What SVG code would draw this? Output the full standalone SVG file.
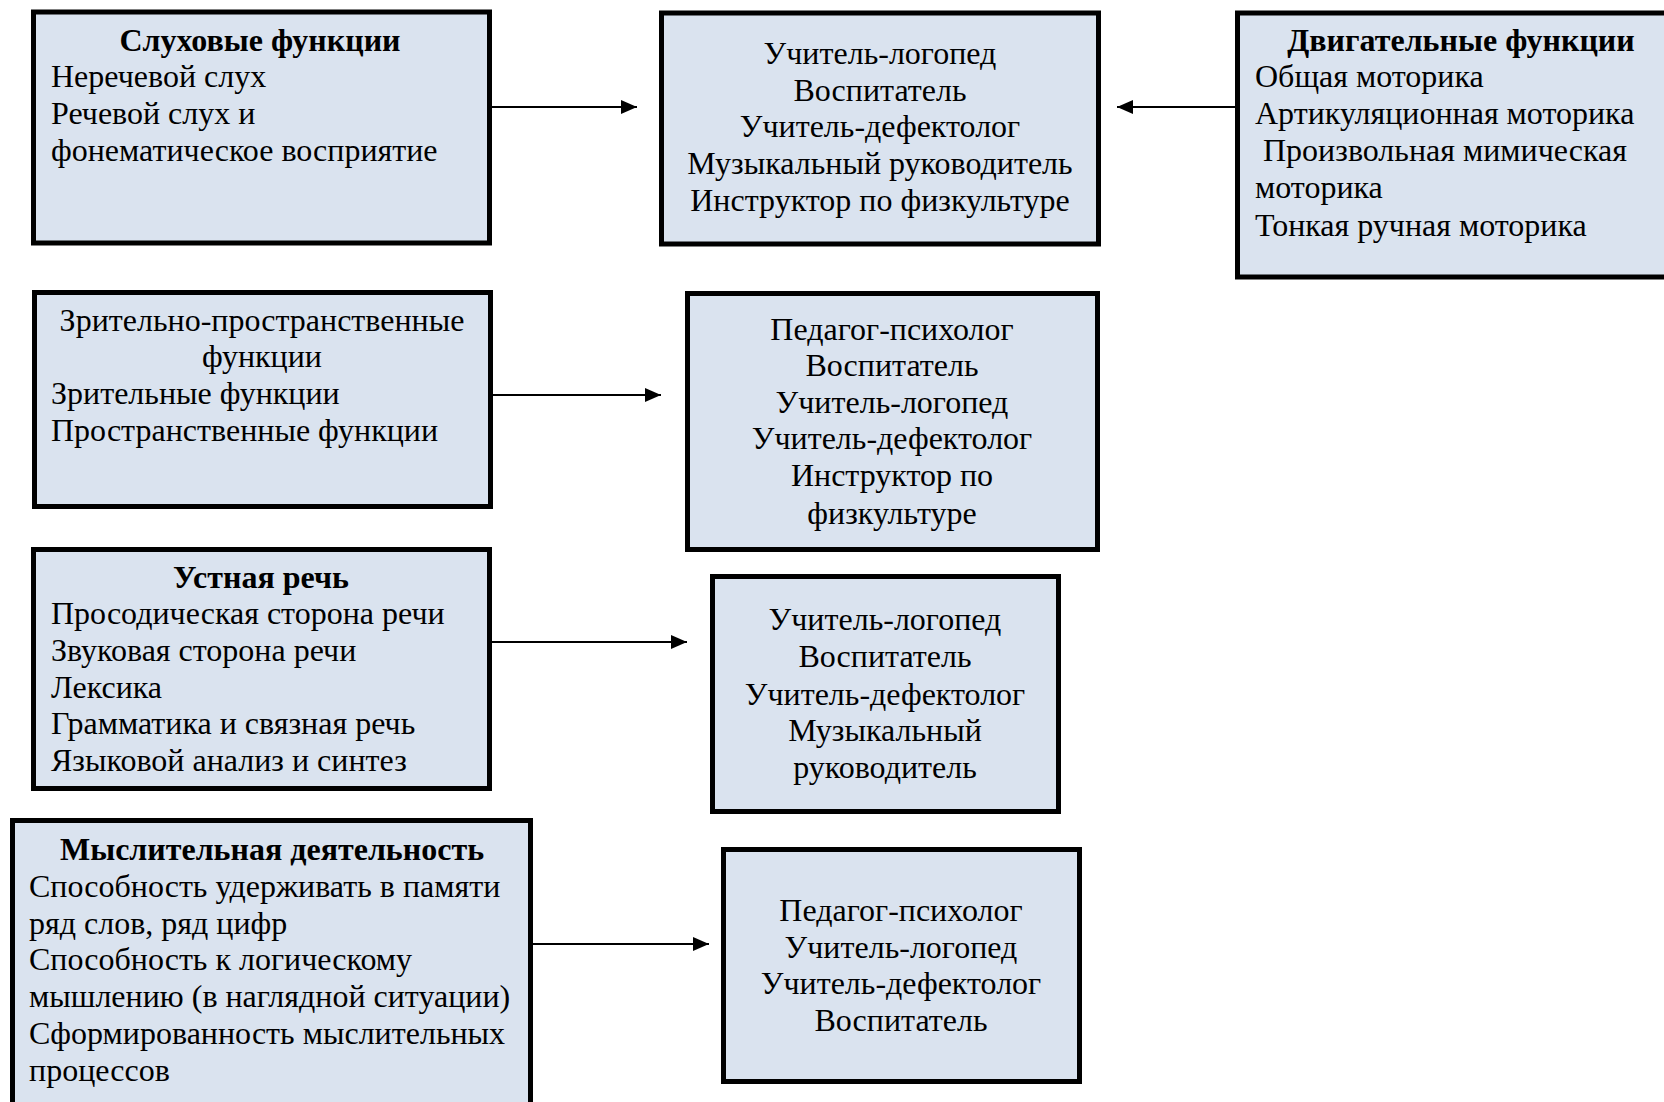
<svg xmlns="http://www.w3.org/2000/svg" width="1664" height="1102" viewBox="0 0 1664 1102">
<defs>
<style>
.box{fill:#dae3ef;stroke:#000;stroke-width:5}
text{font-family:"Liberation Serif","Times New Roman",serif;font-size:32px;fill:#000}
.c{text-anchor:middle}
.b{font-weight:bold}
.conn{stroke:#000;stroke-width:2;fill:none}
</style>
<marker id="ah" viewBox="0 0 16 14" refX="16" refY="7" markerWidth="16" markerHeight="14" markerUnits="userSpaceOnUse" orient="auto">
<path d="M0,0 L16,7 L0,14 Z" fill="#000"/>
</marker>
</defs>
<rect width="1664" height="1102" fill="#fff"/>

<g id="n1">
<rect class="box" x="33.5" y="12" width="456" height="231"/>
<text class="c b" x="260" y="51">Слуховые функции</text>
<text x="51" y="87">Неречевой слух</text>
<text x="51" y="124">Речевой слух и</text>
<text x="51" y="161">фонематическое восприятие</text>
</g>

<g id="n2">
<rect class="box" x="661.5" y="13" width="437" height="231"/>
<text class="c" x="880" y="64">Учитель-логопед</text>
<text class="c" x="880" y="101">Воспитатель</text>
<text class="c" x="880" y="137">Учитель-дефектолог</text>
<text class="c" x="880" y="174">Музыкальный руководитель</text>
<text class="c" x="880" y="211">Инструктор по физкультуре</text>
</g>

<g id="n3">
<rect class="box" x="1237.5" y="13" width="440" height="264"/>
<text class="c b" x="1461" y="51">Двигательные функции</text>
<text x="1255" y="87">Общая моторика</text>
<text x="1255" y="124">Артикуляционная моторика</text>
<text x="1255" y="161" xml:space="preserve"> Произвольная мимическая</text>
<text x="1255" y="198">моторика</text>
<text x="1255" y="236">Тонкая ручная моторика</text>
</g>

<g id="n4">
<rect class="box" x="34.5" y="292.5" width="456" height="214"/>
<text class="c" x="262" y="331">Зрительно-пространственные</text>
<text class="c" x="262" y="367">функции</text>
<text x="51" y="404">Зрительные функции</text>
<text x="51" y="441">Пространственные функции</text>
</g>

<g id="n5">
<rect class="box" x="687.5" y="293.5" width="410" height="256"/>
<text class="c" x="892" y="340">Педагог-психолог</text>
<text class="c" x="892" y="376">Воспитатель</text>
<text class="c" x="892" y="413">Учитель-логопед</text>
<text class="c" x="892" y="449">Учитель-дефектолог</text>
<text class="c" x="892" y="486">Инструктор по</text>
<text class="c" x="892" y="524">физкультуре</text>
</g>

<g id="n6">
<rect class="box" x="33.5" y="549.5" width="456" height="239"/>
<text class="c b" x="261" y="588">Устная речь</text>
<text x="51" y="624">Просодическая сторона речи</text>
<text x="51" y="661">Звуковая сторона речи</text>
<text x="51" y="698">Лексика</text>
<text x="51" y="734">Грамматика и связная речь</text>
<text x="51" y="771">Языковой анализ и синтез</text>
</g>

<g id="n7">
<rect class="box" x="712.5" y="576.5" width="346" height="235"/>
<text class="c" x="885" y="630">Учитель-логопед</text>
<text class="c" x="885" y="667">Воспитатель</text>
<text class="c" x="885" y="705">Учитель-дефектолог</text>
<text class="c" x="885" y="741">Музыкальный</text>
<text class="c" x="885" y="778">руководитель</text>
</g>

<g id="n8">
<rect class="box" x="12.5" y="820.5" width="518" height="292"/>
<text class="c b" x="272" y="860">Мыслительная деятельность</text>
<text x="29" y="897">Способность удерживать в памяти</text>
<text x="29" y="934">ряд слов, ряд цифр</text>
<text x="29" y="970">Способность к логическому</text>
<text x="29" y="1007">мышлению (в наглядной ситуации)</text>
<text x="29" y="1044">Сформированность мыслительных</text>
<text x="29" y="1081">процессов</text>
</g>

<g id="n9">
<rect class="box" x="723.5" y="849.5" width="356" height="232"/>
<text class="c" x="901" y="921">Педагог-психолог</text>
<text class="c" x="901" y="958">Учитель-логопед</text>
<text class="c" x="901" y="994">Учитель-дефектолог</text>
<text class="c" x="901" y="1031">Воспитатель</text>
</g>

<g id="connectors">
<line class="conn" x1="490" y1="107" x2="637" y2="107" marker-end="url(#ah)"/>
<line class="conn" x1="1236" y1="107" x2="1117" y2="107" marker-end="url(#ah)"/>
<line class="conn" x1="491" y1="395" x2="661" y2="395" marker-end="url(#ah)"/>
<line class="conn" x1="490" y1="642" x2="687" y2="642" marker-end="url(#ah)"/>
<line class="conn" x1="531" y1="944" x2="709" y2="944" marker-end="url(#ah)"/>
</g>
</svg>
